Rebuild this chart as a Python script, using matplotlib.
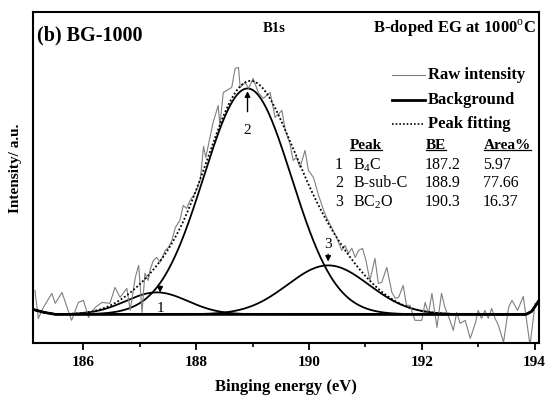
import numpy as np
import matplotlib
matplotlib.use("Agg")
import matplotlib.pyplot as plt

plt.rcParams['font.family'] = ['Liberation Serif', 'DejaVu Serif']
plt.rcParams['mathtext.fontset'] = 'custom'
plt.rcParams['mathtext.rm'] = 'Liberation Serif'

# raw spectrum (intensity above background, a.u.)
raw_be = [185.14, 185.20, 185.29, 185.44, 185.50, 185.62, 185.71, 185.79, 185.91, 186.00,
          186.09, 186.21, 186.33, 186.47, 186.56, 186.65, 186.77, 186.83, 186.92, 186.98,
          187.04, 187.09, 187.15, 187.18, 187.24, 187.30, 187.36, 187.45, 187.51, 187.57,
          187.63, 187.71, 187.77, 187.83, 187.89, 187.98, 188.07, 188.10, 188.13, 188.17,
          188.30, 188.39, 188.42, 188.48, 188.63, 188.69, 188.75, 188.78, 188.87, 188.93,
          189.01, 189.10, 189.19, 189.31, 189.40, 189.52, 189.58, 189.66, 189.72, 189.78,
          189.84, 189.93, 189.99, 190.08, 190.17, 190.26, 190.32, 190.40, 190.49, 190.58,
          190.64, 190.70, 190.76, 190.82, 190.88, 190.95, 191.01, 191.08, 191.17, 191.23,
          191.29, 191.38, 191.47, 191.53, 191.59, 191.67, 191.73, 191.79, 191.88, 191.94,
          192.00, 192.06, 192.12, 192.18, 192.27, 192.35, 192.41, 192.50, 192.56, 192.62,
          192.68, 192.77, 192.86, 192.95, 193.00, 193.06, 193.12, 193.18, 193.24, 193.30,
          193.36, 193.45, 193.54, 193.60, 193.70, 193.80, 193.92, 194.01]
raw_int = [24, -4, 7, 21, 11, 22, 7, -6, 12, 14,
           -3, 7, 12, 11, 27, 17, 26, 4, 37, 49,
           2, 41, 34, 44, 54, 57, 52, 64, 67, 74,
           87, 94, 109, 106, 114, 121, 134, 150, 168, 157,
           192, 209, 189, 222, 227, 246, 247, 227, 232, 226,
           236, 222, 216, 222, 197, 204, 184, 171, 154, 157,
           147, 164, 144, 137, 119, 104, 96, 87, 77, 64,
           69, 61, 66, 57, 64, 66, 54, 34, 56, 31,
           32, 47, 22, 16, 17, 29, 9, 9, -6, -6,
           -6, 12, 1, 21, -13, 21, 7, -6, -16, 2,
           -9, -6, -24, -9, 4, -4, 4, -4, 6, -4,
           -11, -28, 7, 14, 4, 18, -31, 11]

# background line
bg_be = [185.10, 185.30, 185.50, 193.85, 193.95, 194.08]
bg_int = [5, 2, 0, 0, 3, 14]

# fitted peaks
peak_no = ['1', '2', '3']
peak_name = ['B$_4$C', 'B-sub-C', 'BC$_2$O']
peak_be = [187.2, 188.9, 190.3]
peak_area = [5.97, 77.66, 16.37]
peak_pos = [187.30, 188.91, 190.34]
peak_height = [22, 226, 49]
peak_sigma = [0.55, 0.78, 0.72]

fig = plt.figure(figsize=(5.51, 4.03), dpi=100)
ax = fig.add_axes([0.0593, 0.148, 0.919, 0.821])

x = np.linspace(185.1, 194.08, 600)
bg = np.interp(x, bg_be, bg_int)
total = bg.copy()
for c, h, s in zip(peak_pos, peak_height, peak_sigma):
    comp = h * np.exp(-(x - c) ** 2 / (2 * s ** 2))
    total += comp
    ax.plot(x, bg + comp, color='black', lw=1.3)

ax.plot(raw_be, raw_int, color='#7f7f7f', lw=0.8)
ax.plot(x, bg, color='black', lw=2.0)
ax.plot(x, total, color='black', lw=1.3, ls=(0, (1, 1.2)))

ax.set_xlim(185.1, 194.08)
ax.set_ylim(-29, 302)
ax.set_yticks([])
ax.set_xticks([186, 188, 190, 192, 194])
ax.set_xticks([187, 189, 191, 193], minor=True)
ax.tick_params(axis='x', which='major', length=5, width=1.3, labelsize=11, pad=4)
ax.tick_params(axis='x', which='minor', length=3, width=1.2)
for lab in ax.get_xticklabels():
    lab.set_fontweight('bold')
for sp in ax.spines.values():
    sp.set_linewidth(1.5)

ax.set_xlabel('Binging energy (eV)', fontsize=12, fontweight='bold', labelpad=7)
ax.set_ylabel('Intensity/ a.u.', fontsize=11, fontweight='bold')
ax.yaxis.set_label_coords(-0.021, 0.53)

# arrows and labels for peaks
arr = dict(arrowstyle='-|>', color='black', lw=1.0, mutation_scale=8)
ax.annotate('', xy=(peak_pos[1], 226), xytext=(peak_pos[1], 200), arrowprops=arr)
ax.text(peak_pos[1], 184, '2', ha='center', va='center', fontsize=11)
ax.annotate('', xy=(peak_pos[2], 50), xytext=(peak_pos[2], 63), arrowprops=arr)
ax.text(peak_pos[2], 70, '3', ha='center', va='center', fontsize=11)
ax.annotate('', xy=(187.36, 19), xytext=(187.36, 31), arrowprops=arr)
ax.text(187.37, 6, '1', ha='center', va='center', fontsize=11)

# titles
ax.text(0.008, 0.932, '(b) BG-1000', transform=ax.transAxes, fontsize=14.5,
        fontweight='bold', ha='left', va='center')
ax.text(0.476, 0.953, 'B1s', transform=ax.transAxes, fontsize=10.5,
        fontweight='bold', ha='center', va='center')
ax.text(0.993, 0.953, 'B-doped EG at 1000$^{\\mathrm{o}}$C', transform=ax.transAxes,
        fontsize=12, fontweight='bold', ha='right', va='center')

# legend drawn by hand
leg = [('Raw intensity', dict(color='#7f7f7f', lw=0.8)),
       ('Background', dict(color='black', lw=2.0)),
       ('Peak fitting', dict(color='black', lw=1.2, ls=(0, (1, 1.2))))]
leg_y = [0.811, 0.737, 0.662]
for (name, st), yy in zip(leg, leg_y):
    ax.plot([0.710, 0.774], [yy, yy], transform=ax.transAxes, **st)
    ax.text(0.781, yy, name, transform=ax.transAxes, fontsize=12,
            fontweight='bold', ha='left', va='center')

# table
head_y = 0.599
heads = ['Peak', 'BE', 'Area%']
head_x = [0.627, 0.777, 0.891]
head_txt = []
for hx, hd in zip(head_x, heads):
    head_txt.append(ax.text(hx, head_y, hd, transform=ax.transAxes, fontsize=11,
                            fontweight='bold', ha='left', va='center'))
row_y = [0.539, 0.484, 0.427]
for i in range(3):
    ax.text(0.597, row_y[i], peak_no[i], transform=ax.transAxes, fontsize=11.5, va='center')
    ax.text(0.633, row_y[i], peak_name[i], transform=ax.transAxes, fontsize=11.5, va='center')
    ax.text(0.775, row_y[i], '%.1f' % peak_be[i], transform=ax.transAxes, fontsize=11.5, va='center')
    ax.text(0.889, row_y[i], '%.2f' % peak_area[i], transform=ax.transAxes, fontsize=11.5, va='center')

fig.canvas.draw()
r = fig.canvas.get_renderer()
inv = ax.transAxes.inverted()
for t in head_txt:
    bb = t.get_window_extent(r)
    (x0, y0), (x1, y1) = inv.transform([[bb.x0, bb.y0], [bb.x1, bb.y1]])
    ax.plot([x0, x1], [y0 + 0.004, y0 + 0.004], transform=ax.transAxes, color='black', lw=0.9)

fig.savefig('out.png', dpi=100)
